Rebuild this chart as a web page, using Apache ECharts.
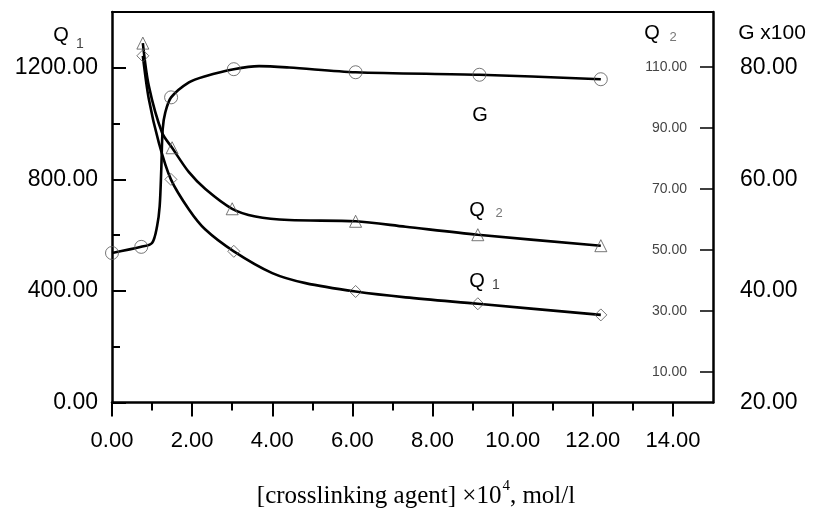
<!DOCTYPE html>
<html>
<head>
<meta charset="utf-8">
<script src="https://cdn.jsdelivr.net/npm/echarts@6.0.0/dist/echarts.min.js"></script>
<style>
html, body { margin: 0; padding: 0; background: #fff; }
#chart { width: 819px; height: 512px; }
</style>
</head>
<body>
<div id="chart"></div>
<script>
// G curve (right outer axis, G x100)
var gCurveX = [0, 0.73, 1.0, 1.125, 1.19, 1.23, 1.265, 1.33, 1.475, 1.92, 2.33, 3.04, 3.67, 4.42, 6.08, 9.17, 12.2];
var gCurveY = [46.8, 47.9, 48.6, 51.6, 55.2, 61.8, 69.0, 72.0, 74.7, 77.4, 78.5, 79.75, 80.3, 80.05, 79.2, 78.75, 77.95];
var gMarkX = [0, 0.73, 1.475, 3.04, 6.08, 9.17, 12.2];
var gMarkY = [46.8, 47.9, 74.7, 79.75, 79.2, 78.75, 77.95];

// Q2 curve (right inner axis)
var q2CurveX = [0.77, 0.92, 1.25, 1.5, 1.92, 2.33, 3.0, 3.58, 4.42, 6.08, 7.33, 9.13, 12.2];
var q2CurveY = [117.8, 103.7, 88.4, 83.5, 75.5, 70.0, 63.5, 61.0, 59.8, 59.4, 57.6, 55.0, 51.4];
var q2MarkX = [0.77, 1.5, 3.0, 6.08, 9.13, 12.2];
var q2MarkY = [117.8, 83.5, 63.5, 59.4, 55.0, 51.4];

// Q1 curve (left axis)
var q1CurveX = [0.77, 0.92, 1.17, 1.47, 1.92, 2.33, 3.04, 4.0, 4.83, 6.08, 7.33, 9.13, 12.2];
var q1CurveY = [1243, 1087, 931, 800, 692, 620, 542, 464, 428, 398, 377, 354, 314];
var q1MarkX = [0.77, 1.47, 3.04, 6.08, 9.13, 12.2];
var q1MarkY = [1243, 800, 542, 398, 354, 314];

// tick values
var xMajor = [0, 2, 4, 6, 8, 10, 12, 14];
var xMinor = [1, 3, 5, 7, 9, 11, 13];
var q1Major = [0, 400, 800, 1200];
var q1Minor = [200, 600, 1000];
var q2Ticks = [10, 30, 50, 70, 90, 110];
var gTicks = [20, 40, 60, 80];

var sans = 'Liberation Sans';
var serif = 'Liberation Serif';

function pairs(xs, ys) {
    return xs.map(function (x, i) { return [x, ys[i]]; });
}
function fmt2(v) { return Number(v).toFixed(2); }

var chart = echarts.init(document.getElementById('chart'), null, { renderer: 'canvas' });

function curve(xs, ys, yIdx) {
    return {
        type: 'line', xAxisIndex: 0, yAxisIndex: yIdx,
        data: pairs(xs, ys), symbol: 'none',
        smooth: 0.3,
        lineStyle: { color: '#000', width: 2.6 },
        z: 2
    };
}
function marks(xs, ys, yIdx, sym, size) {
    return {
        type: 'scatter', xAxisIndex: 0, yAxisIndex: yIdx,
        data: pairs(xs, ys), symbol: sym, symbolSize: size,
        itemStyle: { color: 'rgba(255,255,255,0)', borderColor: '#555', borderWidth: 1 },
        z: 3
    };
}

var option = {
    animation: false,
    backgroundColor: '#fff',
    grid: { left: 112, right: 106, top: 12, bottom: 109.5 },
    xAxis: [
        {
            type: 'value', min: 0, max: 15, position: 'bottom',
            axisLine: { show: true, onZero: false, lineStyle: { color: '#000', width: 2.5 } },
            axisTick: { show: true, customValues: xMajor, length: 14, lineStyle: { color: '#000', width: 2 } },
            axisLabel: { customValues: xMajor, formatter: fmt2, fontSize: 22, fontFamily: sans, color: '#000', margin: 27 },
            splitLine: { show: false }
        },
        {
            type: 'value', min: 0, max: 15, position: 'bottom',
            axisLine: { show: false },
            axisTick: { show: true, customValues: xMinor, length: 8, lineStyle: { color: '#000', width: 2 } },
            axisLabel: { show: false },
            splitLine: { show: false }
        },
        {
            type: 'value', min: 0, max: 15, position: 'top',
            axisLine: { show: true, onZero: false, lineStyle: { color: '#000', width: 2 } },
            axisTick: { show: false },
            axisLabel: { show: false },
            splitLine: { show: false }
        }
    ],
    yAxis: [
        {
            type: 'value', min: 0, max: 1400, position: 'left',
            axisLine: { show: true, onZero: false, lineStyle: { color: '#000', width: 2.5 } },
            axisTick: { show: true, inside: true, customValues: q1Major, length: 14, lineStyle: { color: '#000', width: 2 } },
            axisLabel: { customValues: q1Major, formatter: fmt2, fontSize: 23, fontFamily: sans, color: '#000', margin: 14 },
            splitLine: { show: false }
        },
        {
            type: 'value', min: 0, max: 1400, position: 'left',
            axisLine: { show: false },
            axisTick: { show: true, inside: true, customValues: q1Minor, length: 8, lineStyle: { color: '#000', width: 2 } },
            axisLabel: { show: false },
            splitLine: { show: false }
        },
        {
            type: 'value', min: 0, max: 128, position: 'right',
            axisLine: { show: true, onZero: false, lineStyle: { color: '#000', width: 2.5 } },
            axisTick: { show: true, inside: true, customValues: q2Ticks, length: 13, lineStyle: { color: '#000', width: 1.5 } },
            axisLabel: { inside: true, customValues: q2Ticks, formatter: fmt2, fontSize: 14, fontFamily: sans, color: '#444', margin: 26 },
            splitLine: { show: false }
        },
        {
            type: 'value', min: 20, max: 90, position: 'right',
            axisLine: { show: false },
            axisTick: { show: true, customValues: gTicks, length: 14, lineStyle: { color: '#000', width: 1.5 } },
            axisLabel: { customValues: gTicks, formatter: fmt2, fontSize: 23, fontFamily: sans, color: '#000', margin: 27 },
            splitLine: { show: false }
        }
    ],
    graphic: [
        // axis names
        { type: 'text', x: 61, y: 35, style: { text: 'Q', font: '20px "Liberation Sans"', fill: '#000', align: 'center', verticalAlign: 'middle' } },
        { type: 'text', x: 80, y: 44, style: { text: '1', font: '14px "Liberation Sans"', fill: '#444', align: 'center', verticalAlign: 'middle' } },
        { type: 'text', x: 652, y: 33, style: { text: 'Q', font: '20px "Liberation Sans"', fill: '#000', align: 'center', verticalAlign: 'middle' } },
        { type: 'text', x: 673, y: 37, style: { text: '2', font: '13px "Liberation Sans"', fill: '#777', align: 'center', verticalAlign: 'middle' } },
        { type: 'text', x: 772, y: 33, style: { text: 'G x100', font: '21px "Liberation Sans"', fill: '#000', align: 'center', verticalAlign: 'middle' } },
        // curve labels
        { type: 'text', x: 480, y: 115, style: { text: 'G', font: '20px "Liberation Sans"', fill: '#000', align: 'center', verticalAlign: 'middle' } },
        { type: 'text', x: 477, y: 210, style: { text: 'Q', font: '20px "Liberation Sans"', fill: '#000', align: 'center', verticalAlign: 'middle' } },
        { type: 'text', x: 499, y: 213, style: { text: '2', font: '13px "Liberation Sans"', fill: '#777', align: 'center', verticalAlign: 'middle' } },
        { type: 'text', x: 477, y: 281, style: { text: 'Q', font: '20px "Liberation Sans"', fill: '#000', align: 'center', verticalAlign: 'middle' } },
        { type: 'text', x: 496, y: 285, style: { text: '1', font: '14px "Liberation Sans"', fill: '#444', align: 'center', verticalAlign: 'middle' } },
        // x axis title
        {
            type: 'text', x: 416, y: 494,
            style: {
                text: '{n|[crosslinking agent] ×10}{s|4}{n|, mol/l}',
                align: 'center', verticalAlign: 'middle',
                rich: {
                    n: { fontSize: 25, fontFamily: serif, fill: '#000', color: '#000', lineHeight: 30, verticalAlign: 'bottom' },
                    s: { fontSize: 15, fontFamily: serif, fill: '#000', color: '#000', lineHeight: 30, verticalAlign: 'top', padding: [0, 0, 12, 1] }
                }
            }
        }
    ],
    series: [
        curve(gCurveX, gCurveY, 3),
        curve(q2CurveX, q2CurveY, 2),
        curve(q1CurveX, q1CurveY, 0),
        marks(gMarkX, gMarkY, 3, 'circle', 13),
        marks(q2MarkX, q2MarkY, 2, 'triangle', 12),
        marks(q1MarkX, q1MarkY, 0, 'diamond', 12)
    ]
};

chart.setOption(option);
</script>
</body>
</html>
